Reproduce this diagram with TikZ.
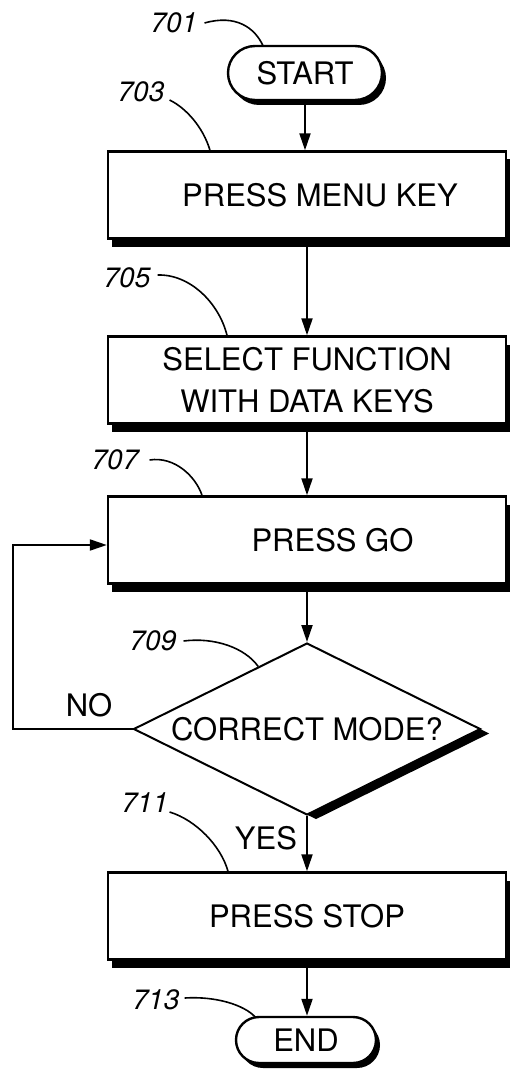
\documentclass[tikz,border=0pt]{standalone}
\usepackage{fontspec}
\setmainfont{TeX Gyre Heros}
\usetikzlibrary{arrows.meta,shapes.misc,shapes.geometric,shadows,calc}
\begin{document}
\begin{tikzpicture}[x=1pt,y=-1pt,
  boxtext/.style={font=\fontsize{31}{42}\selectfont},
  proc/.style={draw, line width=2.4pt, fill=white, minimum width=398pt, minimum height=87pt,
    inner sep=0pt, align=center, boxtext,
    drop shadow={shadow xshift=4pt, shadow yshift=-8pt, opacity=1, fill=black}},
  term/.style={draw, rounded rectangle, line width=2.4pt, fill=white, inner sep=0pt, boxtext,
    drop shadow={shadow xshift=4pt, shadow yshift=-5pt, opacity=1, fill=black}},
  dec/.style={draw, diamond, line width=2pt, fill=white, inner sep=0pt, aspect=2, boxtext,
    drop shadow={shadow xshift=9pt, shadow yshift=-4.5pt, opacity=1, fill=black}},
  arr/.style={line width=2pt, -{Triangle[length=17pt,width=11pt]}},
  refnum/.style={font=\fontsize{28}{30}\selectfont\itshape, inner sep=0pt},
  leader/.style={line width=1.6pt},
  plain/.style={boxtext, inner sep=0pt}
]
\useasboundingbox (0,0) rectangle (513,1075);

% shapes
\node[term, minimum width=154pt, minimum height=54pt] (n701) at (305,73) {START};
\node[proc] (n703) at (307,195) {\hspace*{26pt}PRESS MENU KEY};
\node[proc] (n705) at (307,380) {SELECT FUNCTION\\WITH DATA KEYS};
\node[proc] (n707) at (307,540) {\hspace*{51pt}PRESS GO};
\node[dec, minimum width=347pt, minimum height=172pt] (n709) at (307,729) {CORRECT MODE?};
\node[proc] (n711) at (307,916) {PRESS STOP};
\node[term, minimum width=140pt, minimum height=46pt] (n713) at (306,1040) {END};

% flow arrows
\draw[arr] (n701.south) -- (n701.south |- n703.north);
\draw[arr] (n703.south) -- (n705.north);
\draw[arr] (n705.south) -- (n707.north);
\draw[arr] (n707.south) -- (n709.north);
\draw[arr] (n709.south) -- (n711.north);
\draw[arr] (n711.south) -- (n711.south |- n713.north);

% NO loop
\coordinate (c1) at (13,729);
\coordinate (c2) at (13,545);
\draw[arr] (n709.west) -- (c1) -- (c2) -- (c2 -| n707.west);

% branch labels
\node[plain] (no) at (89,705) {NO};
\node[plain] (yes) at (266,838) {YES};

% reference numerals
\node[refnum] (l701) at (174,23) {701};
\node[refnum] (l703) at (141,92) {703};
\node[refnum] (l705) at (127,278) {705};
\node[refnum] (l707) at (115,460) {707};
\node[refnum] (l709) at (153,641) {709};
\node[refnum] (l711) at (145,803) {711};
\node[refnum] (l713) at (156,1000) {713};

% leader lines
\draw[leader] ([xshift=7pt]l701.east) .. controls (236,14) and (255,28) .. ([xshift=-42pt,yshift=-1pt]n701.north);
\draw[leader] ([xshift=5pt,yshift=-8pt]l703.east) .. controls (186,108) and (203,127) .. ([xshift=-97pt]n703.north);
\draw[leader] ([xshift=7pt,yshift=3pt]l705.east) .. controls (190,274) and (219,303) .. ([xshift=-80pt]n705.north);
\draw[leader] ([xshift=11pt]l707.east) .. controls (175,456) and (196,477) .. ([xshift=-105pt]n707.north);
\draw[leader] ([xshift=7pt]l709.east) .. controls (215,637) and (245,648) .. ($(n709.west)!0.72!(n709.north)$);
\draw[leader] ([xshift=1pt,yshift=-9pt]l711.east) .. controls (196,820) and (221,846) .. ([xshift=-79pt]n711.north);
\draw[leader] ([xshift=5pt,yshift=2pt]l713.east) .. controls (216,996) and (244,1005) .. ([xshift=-51pt,yshift=-1pt]n713.north);
\end{tikzpicture}
\end{document}
